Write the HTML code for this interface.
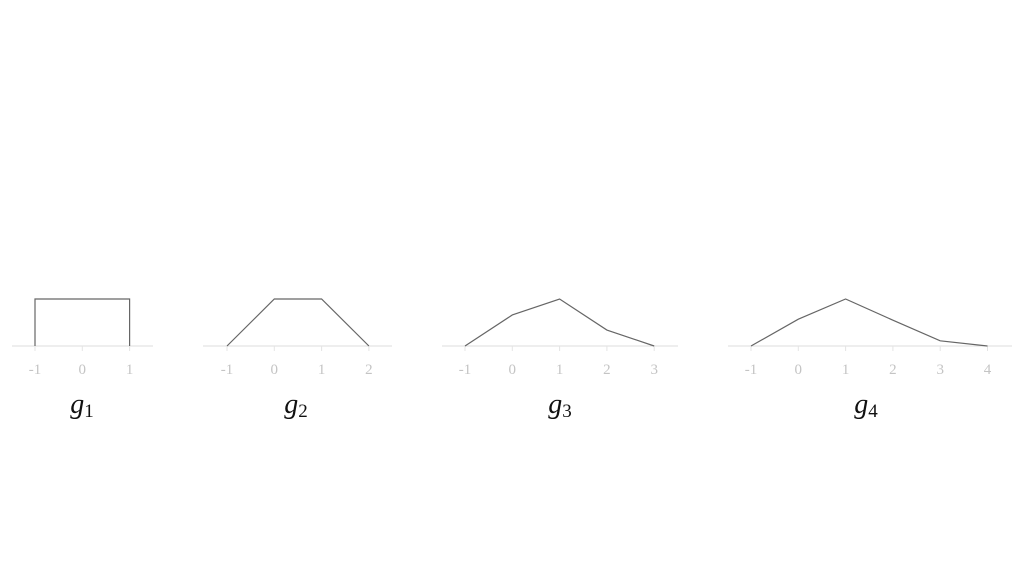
<!DOCTYPE html>
<html><head><meta charset="utf-8"><style>
body{margin:0;background:#fff;width:1024px;height:576px;overflow:hidden}
svg{display:block}
</style></head><body>
<svg id="chart" width="1024" height="576" xmlns="http://www.w3.org/2000/svg"></svg>
<script>
const g1Values=[1,1,1];
const g2Values=[0,1,1,0];
const g3Values=[0,0.66,1,0.34,0];
const g4Values=[0,0.57,1,0.55,0.11,0];
const tickStart=-1;
const panelTitles=['1','2','3','4'];
const panels=[
 {vals:g1Values,x0:35,axL:12,axR:153,step:true,lx:82},
 {vals:g2Values,x0:227,axL:203,axR:392,lx:296},
 {vals:g3Values,x0:465,axL:442,axR:678,lx:560},
 {vals:g4Values,x0:751,axL:728,axR:1012,lx:866}
];
const unit=47.3, base=346, hUnit=47;
const svg=document.getElementById('chart');
const NS='http://www.w3.org/2000/svg';
function mk(t,a){const e=document.createElementNS(NS,t);for(const k in a)e.setAttribute(k,a[k]);svg.appendChild(e);return e;}
panels.forEach((p,i)=>{
 const xs=v=>p.x0+(v-tickStart)*unit, ys=v=>base-v*hUnit;
 const ax=mk('line',{x1:p.axL,x2:p.axR,y1:base,y2:base,stroke:'#ddd','stroke-width':1});
 
 
 const n=p.vals.length;
 for(let k=0;k<n;k++){
  const v=tickStart+k;
  const tk=mk('line',{x1:xs(v),x2:xs(v),y1:base,y2:base+5,stroke:'#e4e4e4'});
  
  
  const t=mk('text',{x:xs(v),y:base+28,'text-anchor':'middle','font-family':'Liberation Serif, serif','font-size':15,fill:'#c4c4c4'});
  t.textContent=String(v);
  
  
 }
 let d;
 if(p.step){d=`M${xs(-1)},${base}L${xs(-1)},${ys(1)}L${xs(1)},${ys(1)}L${xs(1)},${base}`;}
 else{d=p.vals.map((v,k)=>(k?'L':'M')+xs(tickStart+k)+','+ys(v)).join('');}
 const path=mk('path',{d:d,fill:'none',stroke:'#666','stroke-width':1.2});
 
 
 const tt=mk('text',{x:p.lx,y:413,'text-anchor':'middle','font-family':'Liberation Serif, serif','font-size':28,fill:'#111'});
 
 
 const g=document.createElementNS(NS,'tspan');g.setAttribute('font-style','italic');g.textContent='g';tt.appendChild(g);
 const s=document.createElementNS(NS,'tspan');s.setAttribute('font-size','19');s.setAttribute('dy','4');s.textContent=panelTitles[i];tt.appendChild(s);
});
</script>
</body></html>
